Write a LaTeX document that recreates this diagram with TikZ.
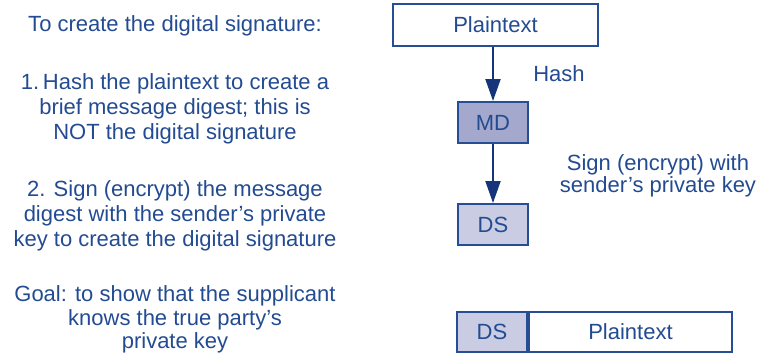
\documentclass[tikz,border=0pt]{standalone}
\usepackage{fontspec}
\setmainfont{Liberation Sans}
\usetikzlibrary{arrows.meta}
\definecolor{txtblue}{RGB}{35,75,145}
\definecolor{edgeblue}{RGB}{38,78,148}
\definecolor{arrblue}{RGB}{22,52,122}
\definecolor{mdfill}{RGB}{164,168,204}
\definecolor{dsfill}{RGB}{201,204,226}
\tikzset{
  txt/.style={font=\fontsize{22}{25}\selectfont, text=txtblue, inner sep=0pt, anchor=base},
  box/.style={draw=edgeblue, line width=2pt, inner sep=0pt, font=\fontsize{22}{25}\selectfont, text=txtblue},
  arr/.style={draw=arrblue, line width=2pt, -{Triangle[width=15pt,length=22pt]}}
}
\begin{document}
\begin{tikzpicture}[x=1pt,y=-1pt]
\useasboundingbox (0,0) rectangle (759,354);
% left explanatory text
\node[txt] (t1) at (175,31) {To create the digital signature:};
\node[txt] (t2) at (175,89) {1.\,Hash the plaintext to create a};
\node[txt] (t3) at (175,114) {brief message digest; this is};
\node[txt] (t4) at (175,139) {NOT the digital signature};
\node[txt] (t5) at (175,196) {2. Sign (encrypt) the message};
\node[txt] (t6) at (175,221) {digest with the sender’s private};
\node[txt] (t7) at (175,246) {key to create the digital signature};
\node[txt] (t8) at (175,301) {Goal: to show that the supplicant};
\node[txt] (t9) at (175,325) {knows the true party’s};
\node[txt] (t10) at (175,348) {private key};
% right diagram
\node[box, minimum width=205pt, minimum height=42pt, fill=white] (pt) at (495.5,25) {Plaintext};
\node[box, minimum width=70pt, minimum height=41pt, fill=mdfill] (md) at (493,122.5) {MD};
\node[box, minimum width=70pt, minimum height=41pt, fill=dsfill] (ds) at (493,224.5) {DS};
\draw[arr] (md.north |- pt.south) -- (md.north);
\draw[arr] (md.south) -- (ds.north);
\node[txt] (hash) at (559,81) {Hash};
\node[txt] (sign1) at (658,170) {Sign (encrypt) with};
\node[txt] (sign2) at (658,192) {sender’s private key};
% combined message
\node[box, minimum width=70pt, minimum height=40pt, fill=dsfill] (ds2) at (492,332) {DS};
\node[box, minimum width=203pt, minimum height=40pt, fill=white, anchor=west] (pt2) at (ds2.east) {Plaintext};
\end{tikzpicture}
\end{document}
